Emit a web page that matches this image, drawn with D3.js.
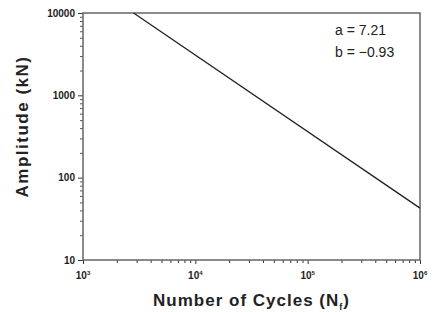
<!DOCTYPE html>
<html>
<head>
<meta charset="utf-8">
<script src="https://cdn.jsdelivr.net/npm/d3@7"></script>
<style>
  body { margin: 0; background: #fff; }
  text { font-family: "Liberation Sans", Arial, sans-serif; fill: #222; }
</style>
</head>
<body>
<div id="chart"></div>
<script>
// data
var cycles = [2820, 1000000];
var amplitude = [10000, 42.7];
var xTickValues = [1e3, 1e4, 1e5, 1e6];
var xTickExp = ["3", "4", "5", "6"];
var yTickValues = [10, 100, 1000, 10000];
var yTickLabels = ["10", "100", "1000", "10000"];
var fitLabels = ["a = 7.21", "b = \u22120.93"];

var margin = {top: 13, right: 14, bottom: 52, left: 83},
    width = 434 - margin.left - margin.right,
    height = 312 - margin.top - margin.bottom;

var svg = d3.select("#chart")
  .append("svg")
  .attr("width", 434)
  .attr("height", 312)
  .append("g")
  .attr("transform", "translate(" + margin.left + "," + margin.top + ")");

var x = d3.scaleLog().domain([1e3, 1e6]).range([0, width]);
var y = d3.scaleLog().domain([10, 10000]).range([height, 0]);

// minor ticks
var xMinor = [], yMinor = [];
for (var e = 3; e < 6; e++) for (var k = 2; k < 10; k++) xMinor.push(k * Math.pow(10, e));
for (var e2 = 1; e2 < 4; e2++) for (var k2 = 2; k2 < 10; k2++) yMinor.push(k2 * Math.pow(10, e2));

var axisColor = "#666";

svg.append("g")
  .attr("transform", "translate(0," + height + ")")
  .call(d3.axisBottom(x).tickValues(xMinor).tickSize(3).tickFormat(""))
  .call(function(g) { g.select(".domain").remove(); g.selectAll("line").attr("stroke", "#333"); });
svg.append("g")
  .call(d3.axisLeft(y).tickValues(yMinor).tickSize(3).tickFormat(""))
  .call(function(g) { g.select(".domain").remove(); g.selectAll("line").attr("stroke", "#555"); });

// major ticks
var xAxis = svg.append("g")
  .attr("transform", "translate(0," + height + ")")
  .call(d3.axisBottom(x).tickValues(xTickValues).tickSize(4).tickFormat(""));
xAxis.select(".domain").remove();
xAxis.selectAll("line").attr("stroke", "#333");

var yAxis = svg.append("g")
  .call(d3.axisLeft(y).tickValues(yTickValues).tickSize(5).tickPadding(3)
    .tickFormat(function(d, i) { return yTickLabels[i]; }));
yAxis.select(".domain").remove();
yAxis.selectAll("line").attr("stroke", "#333");
yAxis.selectAll("text")
  .style("font-size", "10px").style("font-weight", "bold").attr("fill", "#222");

// x tick labels with superscripts
var xl = svg.append("g").selectAll("text")
  .data(xTickValues)
  .enter().append("text")
  .attr("x", function(d) { return x(d); })
  .attr("y", height + 19)
  .attr("text-anchor", "middle")
  .style("font-size", "10px")
  .style("font-weight", "bold");
xl.append("tspan").text("10");
xl.append("tspan")
  .attr("dy", -4)
  .style("font-size", "6px")
  .text(function(d, i) { return xTickExp[i]; });

// frame
svg.append("rect")
  .attr("width", width).attr("height", height)
  .attr("fill", "none")
  .attr("stroke", axisColor)
  .attr("stroke-width", 1.5);

// fitted line
var pts = cycles.map(function(c, i) { return [c, amplitude[i]]; });
svg.append("path")
  .datum(pts)
  .attr("fill", "none")
  .attr("stroke", "#222")
  .attr("stroke-width", 1.3)
  .attr("d", d3.line().x(function(d) { return x(d[0]); }).y(function(d) { return y(d[1]); }));

// fit parameters
svg.append("g").selectAll("text")
  .data(fitLabels)
  .enter().append("text")
  .attr("x", 252)
  .attr("y", function(d, i) { return 22 + i * 22; })
  .style("font-size", "14px")
  .text(function(d) { return d; });

// axis titles
var xt = svg.append("text")
  .attr("x", width / 2)
  .attr("y", height + 46)
  .attr("text-anchor", "middle")
  .style("font-size", "17px")
  .style("font-weight", "bold")
  .style("letter-spacing", "1px")
  .attr("fill", "#333");
xt.append("tspan").text("Number of Cycles (N");
xt.append("tspan").attr("dy", 4).style("font-size", "9px").text("f");
xt.append("tspan").attr("dy", -4).text(")");

svg.append("text")
  .attr("transform", "rotate(-90)")
  .attr("x", -(height / 2) + 10)
  .attr("y", -55)
  .attr("text-anchor", "middle")
  .style("font-size", "17px")
  .style("font-weight", "bold")
  .style("letter-spacing", "1.5px")
  .text("Amplitude (kN)");
</script>
</body>
</html>
